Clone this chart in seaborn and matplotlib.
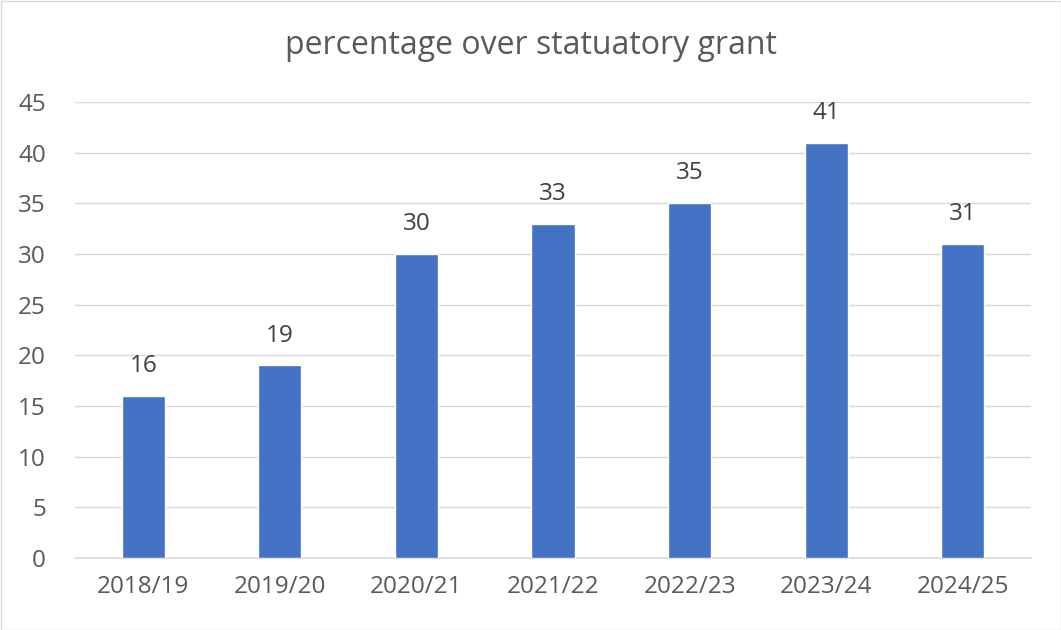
import matplotlib
matplotlib.use("Agg")
import matplotlib.pyplot as plt
import seaborn as sns
import pandas as pd
from matplotlib.patches import Rectangle

categories = ["2018/19", "2019/20", "2020/21", "2021/22", "2022/23", "2023/24", "2024/25"]
values = [16, 19, 30, 33, 35, 41, 31]
yticks = [0, 5, 10, 15, 20, 25, 30, 35, 40, 45]
title = "percentage over statuatory grant"

sns.set_theme(style="white")
plt.rcParams['font.family'] = ['Open Sans', 'DejaVu Sans']

df = pd.DataFrame({"year": categories, "value": values})

fig = plt.figure(figsize=(10.61, 6.30), dpi=100)
ax = fig.add_axes([75/1061, 1-558/630, (1031-75)/1061, (558-102)/630])
sns.barplot(data=df, x="year", y="value", color="#4472C4", saturation=1, width=0.315, ax=ax, zorder=3)

ax.set_ylim(0, 45)
ax.set_xlim(-0.5, 6.5)
ax.set_yticks(yticks)
ax.yaxis.grid(True, color="#d9d9d9", linewidth=1, zorder=0)
ax.set_axisbelow(True)
for s in ["top", "right", "left"]:
    ax.spines[s].set_visible(False)
ax.spines["bottom"].set_color("#d9d9d9")
ax.set_xlabel("")
ax.set_ylabel("")
ax.tick_params(axis="x", length=0, labelsize=17.5, colors="#595959", pad=12)
ax.tick_params(axis="y", length=0, labelsize=17.5, colors="#595959", pad=21)

for i, v in enumerate(values):
    ax.annotate(str(v), (i, v), xytext=(0, 21.5), textcoords="offset points",
                ha="center", va="center", fontsize=17.5, color="#404040")

fig.text(0.5, 1-45/630, title, ha="center", va="center", fontsize=23, color="#595959")
fig.patches.append(Rectangle((0.5/1061, 0.5/630), 1-1/1061, 1-1/630, transform=fig.transFigure,
                             fill=False, edgecolor="#d9d9d9", linewidth=1))
fig.savefig("out.png", dpi=100)
